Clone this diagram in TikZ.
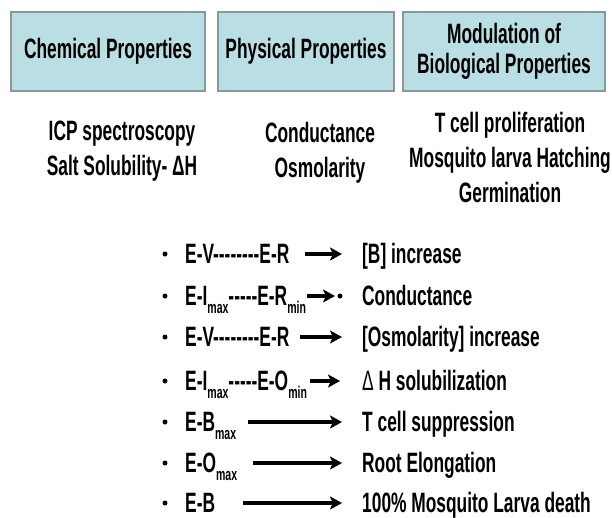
\documentclass[tikz,border=0pt]{standalone}
\usepackage{fontspec}
\newfontfamily\narrowsans{Liberation Sans}[FakeStretch=0.62]
\usepackage{xcolor}
\definecolor{boxfill}{HTML}{B9DFE4}
\definecolor{boxline}{HTML}{8A9899}
\usetikzlibrary{arrows.meta,positioning}
\newcommand{\low}[1]{\raisebox{-8pt}{\fontsize{17}{17}\selectfont #1}}
\tikzset{
  >={Stealth[length=12pt,width=13pt,inset=3pt]},
  txt/.style={font=\narrowsans\bfseries\fontsize{28}{35}\selectfont,inner sep=0pt},
  headbox/.style={txt,draw=boxline,fill=boxfill,line width=1.2pt,minimum height=79pt,align=center,font=\narrowsans\bfseries\fontsize{28}{30}\selectfont},
  col/.style={txt,align=center,anchor=base},
  row/.style={txt,anchor=base west},
  arr/.style={->,line width=4pt},
  dot/.style={circle,fill=black,inner sep=0pt,minimum size=5pt},
}

\begin{document}
\begin{tikzpicture}[x=1pt,y=-1pt]
\useasboundingbox (0,0) rectangle (612,517);
% Header boxes
\node[headbox,minimum width=194pt] (chem) at (108,51.5) {Chemical Properties};
\node[headbox,minimum width=176pt] (phys) at (306,51.5) {Physical Properties};
\node[headbox,minimum width=202pt] (bio) at (504,51.5) {Modulation of\\Biological Properties};
% Methods under each box (base = last line)
\node[col] (chemtxt) at (122,175) {ICP spectroscopy\\Salt Solubility- ΔH};
\node[col] (phystxt) at (320,177) {Conductance\\Osmolarity};
\node[col] (biotxt) at (510,202) {T cell proliferation\\Mosquito larva Hatching\\Germination};
% Row 1
\node[dot] (b1) at (165,254) {};
\node[row] (l1) at (185,263) {E-V--------E-R};
\node[row] (r1) at (362,263) {[B] increase};
\coordinate (s1) at (305,254); \coordinate (e1) at (342,254);
\draw[arr] (s1) -- (e1);
% Row 2
\node[dot] (b2) at (165,296) {};
\node[row] (l2) at (185,305) {E-I\low{max}-----E-R\low{min}};
\node[row] (r2) at (362,305) {Conductance};
\coordinate (s2) at (307,296); \coordinate (e2) at (335,296);
\draw[arr] (s2) -- (e2);
\node[dot] (x2) at (340,296) {};
% Row 3
\node[dot] (b3) at (165,337) {};
\node[row] (l3) at (185,346) {E-V--------E-R};
\node[row] (r3) at (362,346) {[Osmolarity] increase};
\coordinate (s3) at (300,337); \coordinate (e3) at (342,337);
\draw[arr] (s3) -- (e3);
% Row 4
\node[dot] (b4) at (165,381) {};
\node[row] (l4) at (185,390) {E-I\low{max}-----E-O\low{min}};
\node[row] (r4) at (362,390) {{\mdseries Δ} H solubilization};
\coordinate (s4) at (310,381); \coordinate (e4) at (340,381);
\draw[arr] (s4) -- (e4);
% Row 5
\node[dot] (b5) at (165,422) {};
\node[row] (l5) at (185,431) {E-B\low{max}};
\node[row] (r5) at (362,431) {T cell suppression};
\coordinate (s5) at (248,422); \coordinate (e5) at (342,422);
\draw[arr] (s5) -- (e5);
% Row 6
\node[dot] (b6) at (165,463) {};
\node[row] (l6) at (185,472) {E-O\low{max}};
\node[row] (r6) at (362,472) {Root Elongation};
\coordinate (s6) at (253,463); \coordinate (e6) at (342,463);
\draw[arr] (s6) -- (e6);
% Row 7
\node[dot] (b7) at (165,503) {};
\node[row] (l7) at (185,512) {E-B};
\node[row] (r7) at (362,512) {100\% Mosquito Larva death};
\coordinate (s7) at (243,503); \coordinate (e7) at (342,503);
\draw[arr] (s7) -- (e7);
\end{tikzpicture}
\end{document}
